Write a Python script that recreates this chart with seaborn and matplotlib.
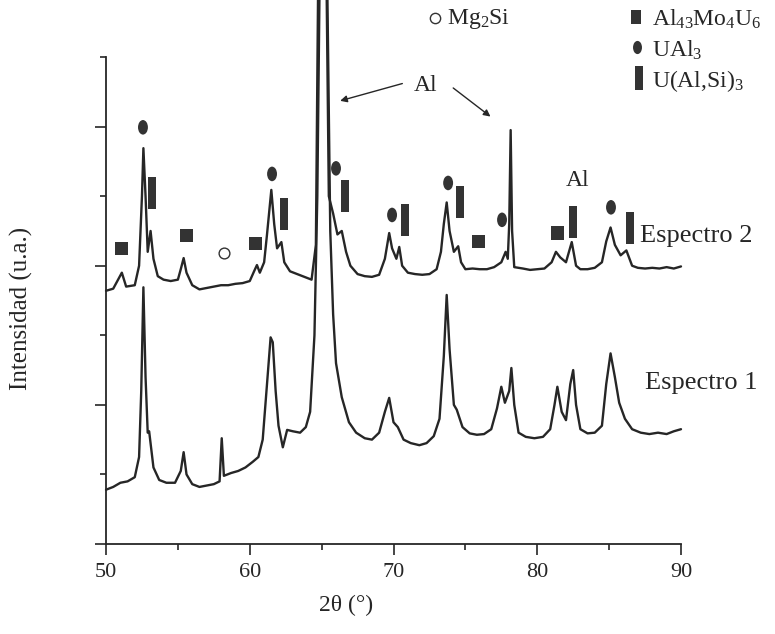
import matplotlib.pyplot as plt
import seaborn as sns
from matplotlib.path import Path
from matplotlib.transforms import Affine2D

sns.set_theme(style="ticks")
plt.rcParams["font.family"] = ["Liberation Serif", "DejaVu Serif"]
plt.rcParams["mathtext.fontset"] = "custom"
plt.rcParams["mathtext.rm"] = "Liberation Serif"
plt.rcParams["mathtext.default"] = "rm"

INK = "#262626"

# Espectro 1 (lower trace)
esp1_x = [50.0, 50.5, 51.0, 51.5, 52.0, 52.3, 52.45, 52.6, 52.75, 52.9, 53.0, 53.3, 53.7,
          54.2, 54.8, 55.2, 55.4, 55.6, 56.0, 56.5, 57.0, 57.5, 57.9, 58.05, 58.2, 58.7,
          59.2, 59.7, 60.2, 60.6, 60.9, 61.2, 61.45, 61.6, 61.8, 62.0, 62.3, 62.6, 63.0,
          63.5, 63.9, 64.2, 64.5, 64.7, 64.85, 65.4, 65.6, 65.8, 66.0, 66.4, 66.9, 67.4,
          68.0, 68.5, 69.0, 69.4, 69.7, 70.0, 70.3, 70.7, 71.2, 71.8, 72.3, 72.8, 73.2,
          73.5, 73.7, 73.9, 74.2, 74.4, 74.8, 75.3, 75.8, 76.3, 76.8, 77.2, 77.5, 77.75,
          78.05, 78.2, 78.4, 78.7, 79.2, 79.8, 80.4, 80.9, 81.2, 81.4, 81.7, 82.0, 82.3,
          82.5, 82.7, 83.0, 83.5, 84.0, 84.5, 84.8, 85.1, 85.4, 85.7, 86.1, 86.6, 87.2,
          87.8, 88.4, 89.0, 89.5, 90.0]
esp1_y = [0.78, 0.82, 0.88, 0.90, 0.96, 1.25, 2.2, 3.69, 2.4, 1.6, 1.62, 1.1, 0.92,
          0.88, 0.88, 1.05, 1.32, 1.0, 0.86, 0.82, 0.84, 0.86, 0.9, 1.52, 0.98, 1.02,
          1.05, 1.1, 1.18, 1.25, 1.5, 2.3, 2.97, 2.9, 2.2, 1.7, 1.39, 1.64, 1.62,
          1.60, 1.68, 1.9, 3.0, 5.0, 7.9, 7.9, 4.5, 3.3, 2.6, 2.11, 1.75, 1.6,
          1.52, 1.50, 1.6, 1.9, 2.10, 1.75, 1.68, 1.5, 1.45, 1.42, 1.45, 1.55, 1.8,
          2.7, 3.58, 2.8, 2.0, 1.93, 1.68, 1.59, 1.57, 1.58, 1.65, 1.95, 2.26, 2.03,
          2.2, 2.53, 2.0, 1.6, 1.54, 1.52, 1.54, 1.65, 2.0, 2.26, 1.9, 1.78, 2.3,
          2.50, 2.0, 1.65, 1.59, 1.60, 1.7, 2.3, 2.74, 2.4, 2.03, 1.8, 1.65, 1.6,
          1.58, 1.60, 1.58, 1.62, 1.65]

# Espectro 2 (upper trace)
esp2_x = [50.0, 50.5, 51.1, 51.4, 52.0, 52.3, 52.5, 52.6, 52.75, 52.9, 53.1, 53.3, 53.6,
          54.0, 54.5, 55.0, 55.2, 55.4, 55.6, 56.0, 56.5, 57.0, 57.5, 58.0, 58.5, 59.0,
          59.5, 60.0, 60.3, 60.5, 60.7, 61.0, 61.2, 61.5, 61.7, 61.9, 62.2, 62.4, 62.8,
          63.3, 63.8, 64.3, 64.6, 64.75, 65.35, 65.5, 65.8, 66.1, 66.4, 66.7, 67.0, 67.5,
          68.0, 68.5, 69.0, 69.4, 69.7, 69.9, 70.2, 70.4, 70.6, 71.0, 71.5, 72.0, 72.5,
          73.0, 73.3, 73.5, 73.7, 73.9, 74.2, 74.5, 74.7, 75.0, 75.5, 76.0, 76.5, 77.0,
          77.5, 77.8, 77.95, 78.05, 78.15, 78.25, 78.4, 79.0, 79.5, 80.0, 80.5, 81.0,
          81.3, 81.6, 82.0, 82.4, 82.7, 83.0, 83.5, 84.0, 84.5, 84.8, 85.1, 85.4, 85.8,
          86.2, 86.6, 87.0, 87.5, 88.0, 88.5, 89.0, 89.5, 90.0]
esp2_y = [3.64, 3.67, 3.90, 3.70, 3.72, 4.0, 5.0, 5.69, 5.0, 4.2, 4.5, 4.1, 3.85,
          3.80, 3.78, 3.80, 3.95, 4.11, 3.90, 3.72, 3.66, 3.68, 3.70, 3.72, 3.72, 3.74,
          3.75, 3.78, 3.92, 4.01, 3.90, 4.05, 4.45, 5.09, 4.6, 4.25, 4.34, 4.05, 3.92,
          3.88, 3.84, 3.80, 4.3, 7.9, 7.9, 5.0, 4.75, 4.45, 4.5, 4.2, 4.0, 3.88,
          3.85, 3.84, 3.87, 4.1, 4.47, 4.25, 4.1, 4.27, 4.0, 3.9, 3.88, 3.87, 3.88,
          3.95, 4.2, 4.6, 4.91, 4.5, 4.2, 4.28, 4.05, 3.95, 3.96, 3.95, 3.95, 3.98,
          4.05, 4.2, 4.1, 4.6, 5.95, 4.5, 3.98, 3.96, 3.94, 3.95, 3.96, 4.05,
          4.2, 4.12, 4.05, 4.34, 4.0, 3.95, 3.95, 3.97, 4.05, 4.35, 4.55, 4.3, 4.15,
          4.22, 4.0, 3.97, 3.96, 3.97, 3.96, 3.98, 3.96, 3.99]

# phase markers on Espectro 2
mg2si_x, mg2si_y = [58.2], [4.18]
almou_x = [51.1, 55.6, 60.4, 75.9, 81.4]
almou_y = [4.25, 4.43, 4.32, 4.35, 4.47]
ual3_x = [52.57, 61.55, 66.0, 69.9, 73.8, 77.55, 85.13]
ual3_y = [5.99, 5.32, 5.40, 4.73, 5.19, 4.66, 4.84]
ualsi_x = [53.2, 62.38, 66.63, 70.8, 74.63, 82.49, 86.45]
ualsi_y = [5.04, 4.74, 5.0, 4.66, 4.91, 4.63, 4.54]

ellipse = Path.unit_circle().transformed(Affine2D().scale(0.68, 1.0))
bar = Path([(-0.125, -0.5), (0.125, -0.5), (0.125, 0.5), (-0.125, 0.5), (-0.125, -0.5)],
           closed=True)
square = Path([(-0.5, -0.5), (0.5, -0.5), (0.5, 0.5), (-0.5, 0.5), (-0.5, -0.5)],
              closed=True)

fig = plt.figure(figsize=(7.75, 6.34), dpi=100)
ax = fig.add_axes([0.1368, 0.142, 0.7419, 0.768])

sns.lineplot(x=esp1_x, y=esp1_y, ax=ax, color=INK, lw=1.7, sort=False, estimator=None)
sns.lineplot(x=esp2_x, y=esp2_y, ax=ax, color=INK, lw=1.7, sort=False, estimator=None)
for line in ax.lines:
    line.set_clip_on(False)

sns.scatterplot(x=almou_x, y=almou_y, ax=ax, marker=square, s=90, color="#333333",
                edgecolor="none", linewidth=0)
sns.scatterplot(x=ual3_x, y=ual3_y, ax=ax, marker=ellipse, s=110, color="#333333",
                edgecolor="none", linewidth=0)
sns.scatterplot(x=ualsi_x, y=ualsi_y, ax=ax, marker=bar, s=530, color="#333333",
                edgecolor="none", linewidth=0)
ax.scatter(mg2si_x, mg2si_y, marker="o", s=60, facecolor="white", edgecolor="#333333",
           linewidth=1.0, zorder=3)

ax.set_xlim(50, 90)
ax.set_ylim(0, 7)
ax.set_xticks([50, 60, 70, 80, 90])
ax.set_xticks([55, 65, 75, 85], minor=True)
ax.set_yticks([0, 2, 4, 6])
ax.set_yticks([1, 3, 5, 7], minor=True)
ax.set_yticklabels([])
ax.tick_params(which="major", direction="out", length=8, width=1.2, labelsize=16,
               colors=INK, pad=6)
ax.tick_params(which="minor", direction="out", length=4, width=1.2, colors=INK)
sns.despine(ax=ax)
for side in ["left", "bottom"]:
    ax.spines[side].set_linewidth(1.3)
    ax.spines[side].set_color(INK)
ax.set_xlabel("")
ax.set_ylabel("")

# annotations
ax.text(72.2, 6.59, "Al", fontsize=17, color=INK, ha="center", va="center")
ax.annotate("", xy=(66.1, 6.36), xytext=(70.8, 6.63),
            arrowprops=dict(arrowstyle="-|>", color=INK, lw=1.0, mutation_scale=10),
            annotation_clip=False)
ax.annotate("", xy=(76.9, 6.12), xytext=(74.0, 6.58),
            arrowprops=dict(arrowstyle="-|>", color=INK, lw=1.0, mutation_scale=10),
            annotation_clip=False)
ax.text(82.8, 5.23, "Al", fontsize=17, color=INK, ha="center", va="center")
ax.text(87.15, 4.43, "Espectro 2", fontsize=19, color=INK, ha="left", va="center",
        clip_on=False)
ax.text(87.5, 2.31, "Espectro 1", fontsize=19, color=INK, ha="left", va="center",
        clip_on=False)

fig.text(21 / 775, 0.514, "Intensidad (u.a.)", rotation=90, fontsize=18, color=INK,
         ha="center", va="center")
fig.text(346 / 775, 1 - 605 / 634, "2θ (°)", fontsize=17, color=INK,
         ha="center", va="center")

# legend of phases (top right)
def fx(px):
    return px / 775


def fy(py):
    return 1 - py / 634


tf = fig.transFigure
ax.scatter([fx(435)], [fy(18)], marker="o", s=55, facecolor="white", edgecolor="#333333",
           linewidth=1.0, transform=tf, clip_on=False)
ax.scatter([fx(636)], [fy(17)], marker=Path([(-0.35, -0.5), (0.35, -0.5), (0.35, 0.5),
                                             (-0.35, 0.5), (-0.35, -0.5)], closed=True),
           s=90, color="#333333", linewidth=0, transform=tf, clip_on=False)
ax.scatter([fx(637)], [fy(47)], marker=ellipse, s=90, color="#333333", linewidth=0,
           transform=tf, clip_on=False)
ax.scatter([fx(639)], [fy(78)], marker=Path([(-0.15, -0.5), (0.15, -0.5), (0.15, 0.5),
                                             (-0.15, 0.5), (-0.15, -0.5)], closed=True),
           s=300, color="#333333", linewidth=0, transform=tf, clip_on=False)
fig.text(fx(447), fy(19), r"Mg$_2$Si", fontsize=17, color=INK, ha="left", va="center")
fig.text(fx(652), fy(19), r"Al$_{43}$Mo$_4$U$_6$", fontsize=17, color=INK,
         ha="left", va="center")
fig.text(fx(652), fy(50), r"UAl$_3$", fontsize=17, color=INK, ha="left", va="center")
fig.text(fx(652), fy(81), r"U(Al,Si)$_3$", fontsize=17, color=INK, ha="left",
         va="center")

fig.savefig("out.png", dpi=100, facecolor="white")
